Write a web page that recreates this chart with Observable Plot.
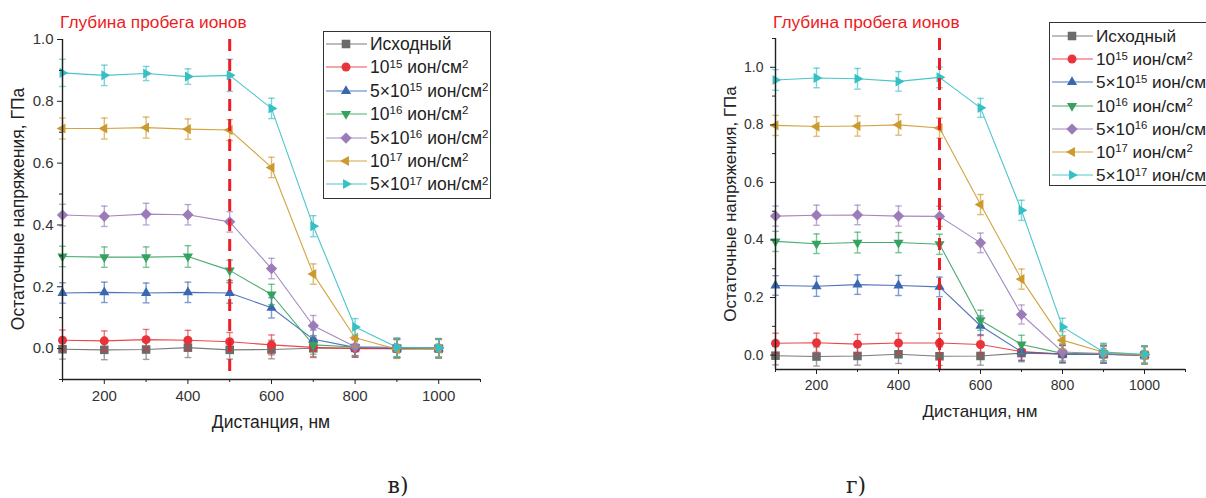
<!DOCTYPE html>
<html><head><meta charset="utf-8">
<script src="https://cdn.jsdelivr.net/npm/d3@7"></script>
<script src="https://cdn.jsdelivr.net/npm/@observablehq/plot@0.6"></script>
<style>
body{margin:0;width:1206px;height:498px;overflow:hidden;background:#fff;position:relative;font-family:"Liberation Sans",Arial,sans-serif;}
.abs{position:absolute;}
.title{color:#ec1c24;font-size:17.3px;white-space:nowrap;transform:translateY(-50%);}
.ylab{color:#222;white-space:nowrap;transform:translate(-50%,-50%) rotate(-90deg);}
.xlab{color:#222;white-space:nowrap;transform:translate(-50%,-50%);}
.sub{font-family:"DejaVu Serif","Liberation Serif",serif;font-size:22px;color:#222;transform:translate(-50%,-50%);}
.legend{border:1px solid #333;background:#fff;box-sizing:border-box;overflow:hidden;}
.row{position:absolute;left:0;white-space:nowrap;color:#222;}
.row svg{position:absolute;left:0;}
.row span{position:absolute;transform:translateY(-50%);}
sup{font-size:0.66em;vertical-align:baseline;position:relative;top:-0.5em;}
</style></head>
<body>
<script>
const distance = [100,200,300,400,500,600,700,800,900,1000];
const seriesLabels = ["Исходный","10^15 ион/см^2","5×10^15 ион/см^2","10^16 ион/см^2","5×10^16 ион/см^2","10^17 ион/см^2","5×10^17 ион/см^2"];
const seriesColors = ["#6b6b6b","#e8333a","#3a67b1","#35a35f","#9b7bb8","#cc9a2e","#36bfc4"];
const xTicks = [200,400,600,800,1000];
const xMinorTicks = [100,300,500,700,900,1100];
const yTicks = [0,0.2,0.4,0.6,0.8,1.0];
const yMinorTicksLeft = [-0.1,0.1,0.3,0.5,0.7,0.9];
const yMinorTicksRight = [0.1,0.3,0.5,0.7,0.9,1.1];
const ionRange = [500];

// panel в)
const leftInitial = [-0.002,-0.004,-0.003,0.003,-0.004,-0.003,0.001,0.002,0.000,0.000];
const leftE15    = [0.027,0.025,0.029,0.027,0.022,0.012,0.004,0.000,0.000,0.000];
const left5E15   = [0.180,0.182,0.180,0.182,0.180,0.132,0.030,0.004,0.001,0.000];
const leftE16    = [0.298,0.296,0.296,0.298,0.253,0.175,0.012,0.005,0.003,0.002];
const left5E16   = [0.432,0.428,0.435,0.433,0.410,0.259,0.074,0.006,0.003,0.003];
const leftE17    = [0.712,0.712,0.715,0.710,0.707,0.586,0.241,0.035,-0.002,-0.001];
const left5E17   = [0.892,0.884,0.890,0.880,0.884,0.777,0.396,0.070,0.004,0.002];
const leftErr = [
  [0.032,0.032,0.032,0.032,0.030,0.030,0.030,0.030,0.030,0.030],
  [0.033,0.032,0.033,0.032,0.030,0.032,0.030,0.028,0.030,0.030],
  [0.033,0.033,0.032,0.033,0.033,0.033,0.030,0.028,0.030,0.030],
  [0.033,0.033,0.033,0.035,0.033,0.033,0.030,0.028,0.030,0.030],
  [0.035,0.033,0.035,0.033,0.033,0.033,0.033,0.028,0.030,0.030],
  [0.034,0.034,0.034,0.033,0.034,0.033,0.033,0.030,0.030,0.030],
  [0.044,0.033,0.023,0.025,0.052,0.033,0.034,0.027,0.030,0.030]
];
// panel г)
const rightInitial = [-0.002,-0.005,-0.003,0.003,-0.004,-0.003,0.007,0.004,0.003,0.000];
const rightE15    = [0.041,0.043,0.038,0.042,0.042,0.037,0.012,0.004,0.003,0.000];
const right5E15   = [0.242,0.239,0.245,0.242,0.237,0.102,0.011,0.003,0.002,0.000];
const rightE16    = [0.395,0.387,0.391,0.391,0.385,0.121,0.037,0.006,0.004,0.001];
const right5E16   = [0.483,0.486,0.487,0.483,0.482,0.390,0.141,0.011,0.005,0.001];
const rightE17    = [0.798,0.794,0.796,0.800,0.789,0.523,0.264,0.052,0.010,0.000];
const right5E17   = [0.956,0.963,0.960,0.951,0.965,0.859,0.503,0.098,0.011,0.003];
const rightErr = [
  [0.032,0.033,0.032,0.032,0.032,0.032,0.030,0.030,0.030,0.030],
  [0.035,0.033,0.034,0.034,0.034,0.034,0.030,0.030,0.030,0.030],
  [0.034,0.035,0.034,0.035,0.034,0.034,0.030,0.030,0.030,0.030],
  [0.035,0.034,0.036,0.035,0.035,0.035,0.032,0.030,0.030,0.030],
  [0.035,0.035,0.034,0.035,0.035,0.034,0.033,0.030,0.030,0.030],
  [0.035,0.034,0.035,0.036,0.035,0.035,0.035,0.030,0.030,0.030],
  [0.036,0.034,0.036,0.034,0.036,0.033,0.035,0.030,0.030,0.030]
];

// custom symbols
const kOf = size => Math.sqrt(size / Math.PI);
const sqSym = {draw(c, s){const h = kOf(s)*0.95; c.rect(-h,-h,2*h,2*h);}};
const ciSym = {draw(c, s){const r = kOf(s); c.moveTo(r,0); c.arc(0,0,r,0,2*Math.PI);}};
const triSym = deg => ({draw(c, s){const R = kOf(s)*1.3; for(let i=0;i<3;i++){const a=(deg+120*i)*Math.PI/180; const x=R*Math.cos(a), y=R*Math.sin(a); if(i) c.lineTo(x,y); else c.moveTo(x,y);} c.closePath();}});
const diSym = {draw(c, s){const h = kOf(s)*1.25; c.moveTo(0,-h); c.lineTo(h,0); c.lineTo(0,h); c.lineTo(-h,0); c.closePath();}};
const seriesSymbols = [sqSym, ciSym, triSym(-90), triSym(90), diSym, triSym(180), triSym(0)];

function rows(seriesValues, errs) {
  return seriesValues.map((vals, i) => distance.map((x, j) => ({
    x, y: vals[j], lo: vals[j] - errs[i][j], hi: vals[j] + errs[i][j]
  })));
}

function panel(cfg) {
  const data = rows(cfg.series, cfg.errs);
  const marks = [];
  data.forEach((d, i) => {
    marks.push(Plot.line(d, {x: "x", y: "y", stroke: seriesColors[i], strokeWidth: 1.1, strokeOpacity: 0.9}));
  });
  data.forEach((d, i) => {
    const c = seriesColors[i];
    marks.push(Plot.ruleX(d, {x: "x", y1: "lo", y2: "hi", stroke: c, strokeWidth: 1.4, strokeOpacity: 0.65}));
    marks.push(Plot.link(d, {x1: e => e.x - 8, x2: e => e.x + 8, y1: "hi", y2: "hi", stroke: c, strokeWidth: 1.4, strokeOpacity: 0.65}));
    marks.push(Plot.link(d, {x1: e => e.x - 8, x2: e => e.x + 8, y1: "lo", y2: "lo", stroke: c, strokeWidth: 1.4, strokeOpacity: 0.65}));
    marks.push(Plot.dot(d, {x: "x", y: "y", r: 4.5, symbol: seriesSymbols[i], fill: c, stroke: "none"}));
  });
  marks.push(Plot.ruleX(ionRange, {stroke: "#ee1c25", strokeWidth: 3, strokeDasharray: "12,8"}));
  marks.push(Plot.axisX(xTicks, {tickSize: 5, tickPadding: 6, label: null, tickFormat: d => String(d), stroke: "#222"}));
  marks.push(Plot.axisX(xMinorTicks, {tickSize: 3, label: null, tickFormat: () => "", stroke: "#222"}));
  marks.push(Plot.axisY(yTicks, {tickSize: 5, tickPadding: cfg.yPad, label: null, tickFormat: d3.format(".1f"), stroke: "#222"}));
  marks.push(Plot.axisY(cfg.yMinor, {tickSize: 3, label: null, tickFormat: () => "", stroke: "#222"}));
  marks.push(Plot.ruleX([100], {stroke: "#222", strokeWidth: 1.4}));
  marks.push(Plot.ruleY([cfg.yDomain[0]], {stroke: "#222", strokeWidth: 1.4}));
  const svg = Plot.plot({
    width: cfg.width, height: cfg.height,
    marginLeft: cfg.ml, marginRight: cfg.mr, marginTop: cfg.mt, marginBottom: cfg.mb,
    x: {domain: [100, 1100]},
    y: {domain: cfg.yDomain},
    style: {fontFamily: "'Liberation Sans', Arial, sans-serif", fontSize: cfg.fontSize + "px", color: "#333", background: "transparent", overflow: "visible"},
    marks
  });
  svg.style.position = "absolute";
  svg.style.left = cfg.left + "px";
  svg.style.top = "0px";
  document.body.appendChild(svg);
}

function addDiv(cls, html, x, y, extra) {
  const d = document.createElement("div");
  d.className = "abs " + cls;
  d.innerHTML = html;
  d.style.left = x + "px"; d.style.top = y + "px";
  if (extra) Object.assign(d.style, extra);
  document.body.appendChild(d);
  return d;
}

function legend(x, y, w, h, rowTop, rowStep, fontSize) {
  const box = addDiv("legend", "", x, y, {width: w + "px", height: h + "px"});
  seriesLabels.forEach((lab, i) => {
    const cy = rowTop + i * rowStep;
    const row = document.createElement("div");
    row.className = "row";
    row.style.top = cy + "px";
    row.style.fontSize = fontSize + "px";
    const sym = d3.symbol(seriesSymbols[i], Math.PI * 4.5 * 4.5)();
    row.innerHTML = `<svg width="46" height="20" style="top:-10px"><line x1="2" x2="43" y1="10" y2="10" stroke="${seriesColors[i]}" stroke-opacity="0.6" stroke-width="1.6"/><path d="${sym}" transform="translate(22,10)" fill="${seriesColors[i]}"/></svg><span style="left:46px">${lab.replace(/\^(\d+)/g, "<sup>$1</sup>")}</span>`;
    box.appendChild(row);
  });
}

panel({left: 0, width: 500, height: 440, ml: 62, mr: 20, mt: 39, mb: 61, yDomain: [-0.1, 1.0], yMinor: yMinorTicksLeft, fontSize: 15, yPad: 4,
  series: [leftInitial, leftE15, left5E15, leftE16, left5E16, leftE17, left5E17], errs: leftErr});
panel({left: 700, width: 506, height: 430, ml: 75, mr: 21, mt: 38, mb: 61, yDomain: [-0.05, 1.1], yMinor: yMinorTicksRight, fontSize: 14, yPad: 7,
  series: [rightInitial, rightE15, right5E15, rightE16, right5E16, rightE17, right5E17], errs: rightErr});

addDiv("title", "Глубина пробега ионов", 60, 22);
addDiv("title", "Глубина пробега ионов", 773, 22);
addDiv("ylab", "Остаточные напряжения, ГПа", 18, 209, {fontSize: "17.5px"});
addDiv("ylab", "Остаточные напряжения, ГПа", 731, 204, {fontSize: "17px"});
addDiv("xlab", "Дистанция, нм", 271, 422, {fontSize: "17.5px"});
addDiv("xlab", "Дистанция, нм", 980, 412, {fontSize: "17px"});
addDiv("sub", "в)", 398, 485);
addDiv("sub", "г)", 856, 485);
legend(323, 31, 168, 168, 12, 23.4, 17.5);
legend(1049, 22, 200, 164, 13, 23.2, 17.2);
</script>
</body></html>
